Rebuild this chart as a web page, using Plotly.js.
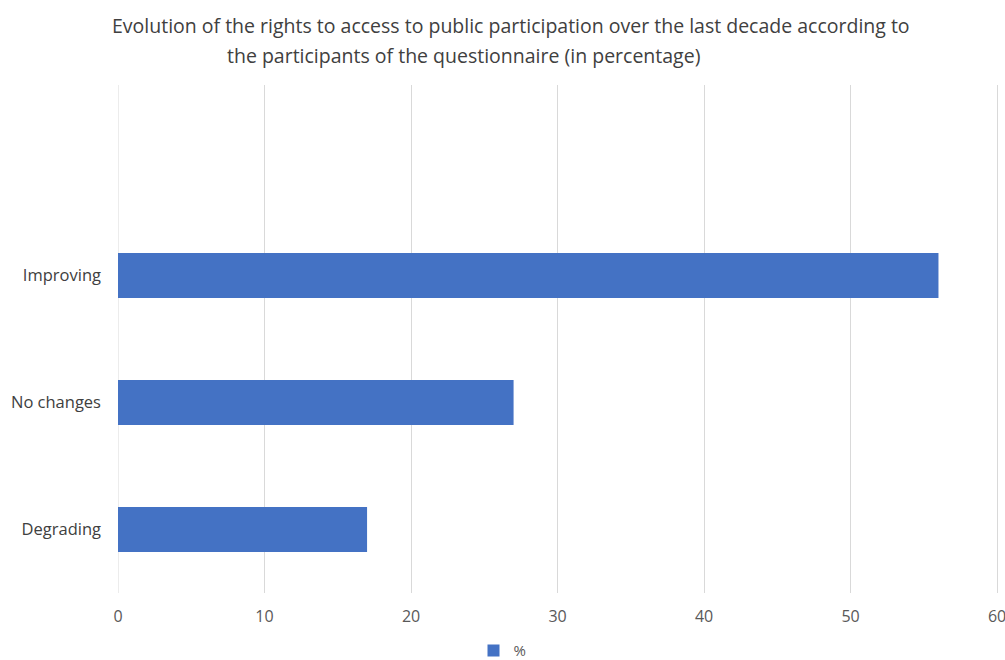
<!DOCTYPE html>
<html><head><meta charset="utf-8">
<script src="https://cdn.plot.ly/plotly-3.0.1.min.js"></script>
<style>body{margin:0;background:#fff}#c{width:1005px;height:660px}</style>
</head><body><div id="c"></div>
<script>
const categories = ["Degrading", "No changes", "Improving"];
const values = [17, 27, 56];
const seriesName = "%";
const xTicks = [0, 10, 20, 30, 40, 50, 60];
const titleLine1 = "Evolution of the rights to access to public participation over the last decade according to";
const titleLine2 = "the participants of the questionnaire (in percentage)";

const FONT = "'Open Sans', sans-serif";
const data = [{
  type: 'bar', orientation: 'h', x: values, y: categories, name: seriesName,
  marker: {color: '#4472C4'}, hoverinfo: 'x+y'
}];
const layout = {
  width: 1005, height: 660,
  margin: {l: 118, r: 5, t: 85, b: 67, autoexpand: false},
  paper_bgcolor: '#fff', plot_bgcolor: '#fff',
  font: {family: FONT, color: '#595959', size: 15},
  bargap: 0.646,
  showlegend: true,
  legend: {orientation: 'h', x: 0.5, xanchor: 'center', xref: 'container', y: 0.014, yanchor: 'middle', yref: 'container',
           font: {size: 15, color: '#595959'}, itemwidth: 30},
  xaxis: {range: [0, 60.2], tickvals: xTicks, showgrid: true, gridcolor: '#d9d9d9', gridwidth: 1,
          zeroline: false, showline: false, ticks: '', ticklabelstandoff: 12, ticklabeloverflow: 'allow',
          tickfont: {size: 16, color: '#595959'}},
  yaxis: {type: 'category', categoryorder: 'array', categoryarray: categories, range: [-0.5, 3.5],
          showgrid: false, zeroline: false, showline: false, ticks: '', ticklabelstandoff: 16,
          tickfont: {size: 16.5, color: '#404040'}},
  shapes: [{type: 'line', xref: 'x', yref: 'paper', x0: 0, x1: 0, y0: 0, y1: 1, line: {color: '#d9d9d9', width: 1}, layer: 'below'}],
  annotations: [
    {text: titleLine1, xref: 'paper', yref: 'paper', x: (110-118)/882, xanchor: 'left', y: 1 + (85-26)/508, yanchor: 'middle', showarrow: false, font: {size: 19.5, color: '#404040', family: FONT}},
    {text: titleLine2, xref: 'paper', yref: 'paper', x: (225-118)/882, xanchor: 'left', y: 1 + (85-55)/508, yanchor: 'middle', showarrow: false, font: {size: 19.5, color: '#404040', family: FONT}}
  ]
};
Plotly.newPlot('c', data, layout, {displayModeBar: false});
</script></body></html>
